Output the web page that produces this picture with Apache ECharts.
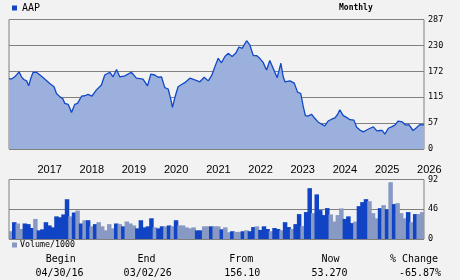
<!DOCTYPE html>
<html>
<head>
<meta charset="utf-8">
<script src="https://cdn.jsdelivr.net/npm/echarts@6.0.0/dist/echarts.min.js"></script>
<style>
html,body{margin:0;padding:0;background:#f2f2f2;}
#chart{width:460px;height:280px;}
</style>
</head>
<body>
<div id="chart"></div>
<script>
// ---------- data ----------
const ticker = 'AAP';
const periodLabel = 'Monthly';
const volumeLabel = 'Volume/1000';
const yearTicks = ['2017','2018','2019','2020','2021','2022','2023','2024','2025','2026'];
const priceTickLabels = ['0','57','115','172','230','287'];
const volumeTickLabels = ['0','46','92'];
const startDate = '2016-04-30';
const endDate = '2026-03-02';

const priceDates = [
'2016-04-30','2016-05-21','2016-06-19','2016-07-26','2016-08-16','2016-09-05','2016-09-29','2016-10-18','2016-11-05','2016-11-25','2016-12-24',
'2017-01-23','2017-03-05','2017-04-18','2017-05-25','2017-06-15','2017-07-13','2017-08-11','2017-08-26','2017-09-24','2017-10-08','2017-10-23','2017-11-21','2017-12-14',
'2018-01-18','2018-02-16','2018-03-15','2018-04-18','2018-05-27','2018-07-09','2018-08-07','2018-09-20','2018-10-18','2018-11-17','2018-12-15',
'2019-01-28','2019-03-25','2019-05-08','2019-07-04','2019-08-12','2019-09-10','2019-10-14','2019-11-12','2019-12-11',
'2020-01-09','2020-02-07','2020-03-01','2020-03-15','2020-04-05','2020-05-03','2020-06-02','2020-06-30','2020-08-13','2020-09-25','2020-11-08','2020-12-15',
'2021-01-19','2021-02-18','2021-03-17','2021-04-15','2021-05-14','2021-06-12','2021-07-10','2021-08-14','2021-09-13','2021-10-12','2021-11-09','2021-12-17',
'2022-01-15','2022-02-13','2022-03-13','2022-04-10','2022-05-09','2022-06-08','2022-07-06','2022-08-04','2022-09-08','2022-10-10','2022-10-30','2022-11-14','2022-12-27',
'2023-01-11','2023-02-03','2023-03-03','2023-03-31','2023-04-20','2023-05-10','2023-06-02','2023-07-02','2023-07-30','2023-08-28','2023-09-27','2023-10-25','2023-11-23','2023-12-23',
'2024-01-21','2024-02-14','2024-03-03','2024-04-02','2024-04-30','2024-05-30','2024-07-03','2024-07-27','2024-08-24','2024-09-23','2024-10-22','2024-11-20','2024-12-19',
'2025-01-18','2025-02-15','2025-03-06','2025-03-28','2025-04-27','2025-05-25','2025-06-23','2025-07-22','2025-08-26','2025-09-24','2025-10-22','2025-11-28','2025-12-27',
'2026-01-24','2026-03-02'
];
const priceValues = [
156.1,155,160,171,160,154,151,140,157,170,170,
164,155,145,138,123,116,111,101,99,91,81,99,101,
117,118,121,117,131,142,164,170,160,176,160,
162,170,157,155,140,166,164,159,160,
136,133,110,92,114,138,143,147,157,153,149,159,
151,163,182,201,191,205,212,205,212,226,223,240,
230,207,207,201,192,175,196,179,158,190,160,149,151,
153,146,126,123,96,74,73,77,68,60,55,51,62,66,
69,77,87,74,70,65,64,48,42,38,42,46,49,
40,41,41,33,46,49,53,62,60,53,54,41,47,
54,53.27
];

const volumeValues = [
12,26,24,15.5,24,23,17,31,13.4,15,26,21,18,35,33.6,38,61.5,35,41,44,
24,29,29,19.6,23,26,19.6,13.4,23,16.5,24,23,19.6,27,24,21,16.5,29,18,19.6,
32,18,16.5,19.6,19.6,21,19.6,29,21,21,18,16.5,18,13.4,13.4,19.6,19.6,19.6,19.6,19.6,
15,18,10.5,12,11,11,12,13.5,12,18.5,19.6,14,19.6,15.5,12,17,15.5,13.5,26,18.5,
15.5,23,38.5,20,41.6,78.6,40,69,44.7,37,47.8,38,27,37,47.3,31,35,24.6,27,50.8,
57,61.6,58.5,40,32,47.7,52.4,46,87.8,54,55.5,40,32,41.6,26,38.5,38.5,41.6
];
const volumeTone = [
'L','D','L','L','D','D','D','L','D','D','D','D','D','D','D','D','D','L','D','L',
'D','L','D','L','D','L','L','L','L','L','D','L','D','L','L','L','D','D','D','D',
'D','L','D','D','L','D','L','D','L','L','L','L','L','D','D','L','L','D','L','L',
'D','L','L','D','L','L','D','L','D','D','L','D','D','D','L','D','D','L','D','D',
'L','D','D','L','D','D','L','D','D','D','D','L','L','L','L','D','D','D','L','D',
'D','D','L','L','L','D','L','D','L','D','L','L','L','D','L','D','L','L'
];

const summaryLabels = ['Begin','End','From','Now','% Change'];
const summaryValues = ['04/30/16','03/02/26','156.10','53.270','-65.87%'];

// ---------- helpers ----------
function ts(s){const p=s.split('-').map(Number);return new Date(p[0],p[1]-1,p[2]).getTime();}
const monthCats = volumeValues.map((v,i)=>'m'+i);

const DARK='#1144c4', LIGHT='#8899c4', LINE='#1048c8', FILL='#9bb0dc', GRID='#808080';
const MONO='DejaVu Sans Mono';

const chart = echarts.init(document.getElementById('chart'), null, {renderer:'canvas'});
const summaryLabelX = [60.7,146.5,241.3,330.5,414];
const summaryValueX = [59.5,147.7,242.2,329.5,420];
const graphics = [];
summaryLabels.forEach((t,i)=>graphics.push({type:'text',x:summaryLabelX[i],y:259.5,style:{text:t,fill:'#000',font:'10px '+MONO,textAlign:'center',textVerticalAlign:'middle'}}));
summaryValues.forEach((t,i)=>graphics.push({type:'text',x:summaryValueX[i],y:273,style:{text:t,fill:'#000',font:'10px '+MONO,textAlign:'center',textVerticalAlign:'middle'}}));

chart.setOption({
  animation:false,
  backgroundColor:'#f2f2f2',
  title:{text:periodLabel,left:339,top:4,textStyle:{fontFamily:MONO,fontSize:8,fontWeight:'bold',color:'#000'},padding:0},
  legend:[
    {data:[{name:ticker,itemStyle:{color:DARK}}],left:12,top:3,padding:0,itemWidth:5,itemHeight:5,icon:'rect',
     textStyle:{fontFamily:MONO,fontSize:10,color:'#000'}},
    {data:[{name:volumeLabel,itemStyle:{color:LIGHT}}],left:12,top:241,padding:0,itemWidth:5,itemHeight:5,icon:'rect',itemGap:0,
     textStyle:{fontFamily:MONO,fontSize:8.3,color:'#000',padding:[0,0,0,-2]}}
  ],
  grid:[
    {left:9,right:36,top:19.5,height:129.5,show:true,borderColor:GRID,borderWidth:1,backgroundColor:'transparent'},
    {left:9,right:36,top:179.5,height:59.5,show:true,borderColor:GRID,borderWidth:1,backgroundColor:'transparent'}
  ],
  xAxis:[
    {type:'value',gridIndex:0,min:ts(startDate),max:ts(endDate),
     axisLine:{show:false},axisTick:{show:false},splitLine:{show:false},
     axisLabel:{customValues:yearTicks.map(y=>ts(y+'-01-01')),formatter:v=>String(new Date(v).getFullYear()),
       align:'left',margin:15,fontFamily:'Liberation Sans',fontSize:11,color:'#000'}},
    {type:'category',gridIndex:1,data:monthCats,boundaryGap:true,
     axisLine:{show:false},axisTick:{show:false},axisLabel:{show:false},splitLine:{show:false}}
  ],
  yAxis:[
    {type:'value',gridIndex:0,position:'right',min:0,max:287,interval:57.4,
     axisLine:{show:false},axisTick:{show:false},
     splitLine:{show:true,lineStyle:{color:GRID,width:1}},
     axisLabel:{formatter:(v,i)=>priceTickLabels[i],margin:4,fontFamily:MONO,fontSize:8.5,color:'#000'}},
    {type:'value',gridIndex:1,position:'right',min:0,max:92,interval:46,
     axisLine:{show:false},axisTick:{show:false},
     splitLine:{show:true,lineStyle:{color:GRID,width:1}},
     axisLabel:{formatter:(v,i)=>volumeTickLabels[i],margin:4,fontFamily:MONO,fontSize:8.5,color:'#000'}}
  ],
  series:[
    {name:ticker,type:'line',xAxisIndex:0,yAxisIndex:0,showSymbol:false,
     data:priceDates.map((d,i)=>[ts(d),priceValues[i]]),
     lineStyle:{color:LINE,width:1.3},itemStyle:{color:DARK},
     areaStyle:{color:FILL,opacity:1},z:3},
    {name:volumeLabel,type:'bar',xAxisIndex:1,yAxisIndex:1,barWidth:4.5,
     data:volumeValues.map((v,i)=>({value:v,itemStyle:{color:volumeTone[i]==='D'?DARK:LIGHT}})),
     itemStyle:{borderWidth:0},z:3}
  ],
  graphic:graphics
});
</script>
</body>
</html>
